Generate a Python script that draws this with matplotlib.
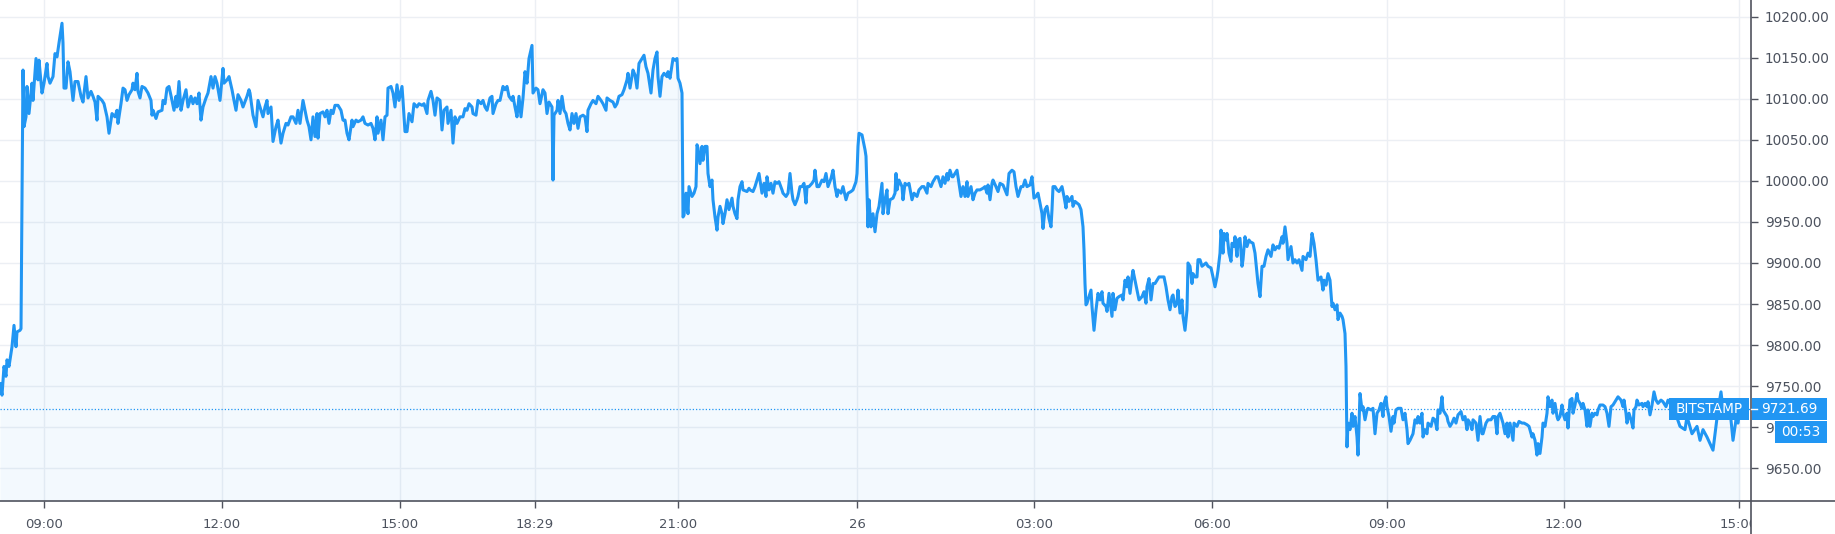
import matplotlib
matplotlib.use("Agg")
import matplotlib.pyplot as plt
import matplotlib.transforms as mtransforms
from matplotlib.patches import Rectangle
from matplotlib.lines import Line2D
import numpy as np

# bar index (1 bar ~ 1 minute, 09:00 = 0) and close price
bar_idx = [
    -44, -42, -40, -38, -37, -35, -32, -30, -28, -27, -24, -23, -21, -20, -18, -17, -15, -12, -11, -8,
    -6, -5, -2, 0, 3, 4, 6, 9, 11, 13, 15, 18, 19, 20, 22, 24, 26, 29, 31, 34,
    37, 39, 42, 44, 47, 49, 51, 53, 54, 58, 60, 63, 65, 68, 71, 73, 74, 77, 79, 81,
    83, 85, 88, 89, 91, 93, 94, 96, 98, 101, 104, 107, 108, 109, 112, 114, 118, 119, 121, 123,
    125, 128, 130, 132, 133, 135, 137, 139, 142, 144, 147, 149, 151, 153, 155, 157, 159, 162, 164, 167,
    169, 171, 173, 176, 179, 180, 183, 185, 188, 190, 192, 194, 197, 199, 203, 205,
    206, 209, 212, 214, 217, 219, 221, 223, 224, 227, 229, 232, 234, 237, 239, 242, 244, 247, 249, 252,
    254, 256, 259, 261, 263, 265, 267, 269, 271, 273, 274, 276, 279, 281, 283, 285, 287, 289, 291, 294,
    297, 299, 301, 303, 305, 308, 309, 312, 314, 317, 319, 321, 324, 327, 329, 331, 333, 334, 337, 339,
    341, 343, 344, 347, 349, 351, 353, 355, 358, 359, 361, 363, 365, 368, 370, 373, 375, 378, 380, 383,
    384, 387, 389, 391, 393, 396, 398, 400, 403, 404, 407, 409, 411, 413, 416, 419, 421, 423, 425, 428,
    429, 432, 434, 437, 439, 441, 443, 446, 448, 449, 452, 454,
    456, 459, 461, 463, 465, 468, 469, 471, 473, 475, 477, 479, 481, 483, 485, 488, 489, 492, 494, 496,
    499, 501, 503, 505, 508, 509, 510, 513, 514, 516, 518, 520, 522, 524, 526, 528, 530, 532, 534, 536,
    539, 541, 543, 544, 547, 549, 552, 554, 557, 559, 562, 563, 566, 569, 571, 573, 575, 578, 580, 583,
    584, 586, 589, 591, 593, 595, 598, 600, 602, 604, 607, 609, 611, 613, 614, 616, 618, 620, 623, 624,
    626, 629, 631, 633, 634, 636, 638, 639, 640, 642, 644, 645, 648, 650, 652, 653, 654, 656, 658, 659,
    661, 663, 664, 666, 668, 669, 671, 673, 674, 676, 678, 679, 681, 683, 685, 688, 689, 691, 693, 694,
    696, 698, 699, 703, 705,
    706, 709, 711, 713, 715, 718, 720, 722, 723, 725, 727, 729, 731, 733, 735, 738, 739, 742, 744, 746,
    748, 749, 751, 753, 754, 756, 758, 760, 762, 763, 765, 768, 770, 771, 773, 775, 778, 780, 782, 784,
    787, 789, 791, 793, 794, 797, 799, 802, 804, 807, 809, 812, 813, 814, 815, 818, 819, 821, 822, 824,
    825, 827, 829, 831, 833, 835, 838, 839, 841, 843, 844, 846, 849, 851, 852, 853, 855, 858, 859, 861,
    863, 865, 868, 870, 873, 875, 878, 880, 883, 884, 887, 889, 892, 894, 897, 899, 901, 903, 904, 906,
    908, 909, 911, 913, 915, 917, 919, 921, 923, 924, 927, 929, 931, 933, 936, 939, 941, 943, 944, 946,
    948, 949, 952, 954,
    956, 959, 961, 963, 965, 968, 970, 972, 974, 977, 979, 981, 983, 986, 988, 990, 992, 994, 996, 998,
    999, 1001, 1003, 1005, 1007, 1008, 1009, 1011, 1013, 1015, 1018, 1020, 1022, 1023, 1025, 1028, 1029, 1031, 1033, 1035,
    1037, 1039, 1040, 1041, 1042, 1043, 1045, 1047, 1048, 1050, 1052, 1054, 1056, 1058, 1059, 1062, 1063, 1065, 1068, 1069,
    1071, 1073, 1075, 1078, 1079, 1081, 1083, 1084, 1086, 1088, 1089, 1091, 1093, 1095, 1098, 1100, 1102, 1103, 1105, 1107,
    1109, 1111, 1113, 1115, 1118, 1120, 1122, 1124, 1126, 1128, 1129, 1131, 1133, 1134, 1136, 1138, 1139, 1141, 1143, 1144,
    1146, 1148, 1149, 1151, 1153, 1154, 1156, 1158, 1160, 1162, 1164, 1167, 1169, 1171, 1173, 1174, 1176, 1177, 1179, 1180,
    1182, 1183, 1185, 1187, 1188, 1190, 1191, 1193, 1194, 1196, 1198, 1199, 1201, 1203, 1205,
    1206, 1209, 1211, 1213, 1214, 1216, 1218, 1220, 1222, 1224, 1227, 1229, 1231, 1233, 1235, 1238, 1239, 1241, 1243, 1244,
    1247, 1249, 1251, 1253, 1255, 1258, 1259, 1262, 1264, 1266, 1268, 1270, 1272, 1274, 1277, 1279, 1280, 1282, 1284, 1286,
    1288, 1289, 1291, 1293, 1294, 1296, 1298, 1299, 1301, 1302, 1303, 1304, 1306, 1308, 1309, 1311, 1313, 1314, 1316, 1318,
    1319, 1321, 1323, 1324, 1327, 1329, 1331, 1333, 1335, 1337, 1339, 1340, 1342, 1343, 1345, 1347, 1349, 1350, 1352, 1354,
    1357, 1359, 1361, 1363, 1364, 1366, 1369, 1371, 1373, 1374, 1376, 1378, 1379, 1381, 1383, 1384, 1387, 1389, 1391, 1393,
    1394, 1396, 1398, 1399, 1401, 1403, 1404, 1406, 1408, 1410, 1412, 1414, 1417, 1419, 1421, 1423, 1424, 1426, 1428, 1429,
    1432, 1434, 1436, 1438, 1439, 1442, 1444, 1447, 1449, 1451, 1453, 1454,
    1456, 1459, 1461, 1463, 1464, 1466, 1469, 1470, 1473, 1475, 1478, 1480, 1483, 1485, 1488, 1489, 1491, 1493, 1494, 1496,
    1498, 1499, 1501, 1503, 1504, 1506, 1508, 1509, 1511, 1513, 1514, 1516, 1518, 1519, 1521, 1523, 1524, 1526, 1528, 1529,
    1531, 1533, 1534, 1536, 1538, 1539, 1541, 1543, 1544, 1546, 1548, 1549, 1551, 1553, 1554, 1556, 1559, 1561, 1563, 1565,
    1567, 1569, 1572, 1574, 1577, 1579, 1580, 1582, 1583, 1585, 1587, 1589, 1590, 1592, 1593, 1595, 1598, 1599, 1601, 1603,
    1604, 1606, 1608, 1610, 1612, 1614, 1617, 1619, 1622, 1624, 1630, 1636, 1641, 1643, 1648, 1653, 1656, 1659, 1663, 1666,
    1669, 1672, 1674, 1677, 1679, 1683, 1686, 1689, 1692, 1694, 1696,
]
price = [
    9753, 9739, 9774, 9762, 9782, 9774, 9798, 9824, 9798, 9816, 9818, 9820, 10135, 10066, 10078, 10115, 10082, 10119, 10098, 10149,
    10123, 10147, 10107, 10119, 10143, 10127, 10119, 10127, 10155, 10151, 10168, 10192, 10168, 10113, 10113, 10145, 10133, 10098, 10121, 10121,
    10103, 10096, 10127, 10101, 10109, 10103, 10096, 10074, 10103, 10098, 10094, 10078, 10058, 10082, 10078, 10086, 10070, 10094, 10113, 10111,
    10098, 10105, 10111, 10119, 10111, 10131, 10109, 10101, 10115, 10113, 10107, 10098, 10080, 10086, 10076, 10084, 10086, 10098, 10094, 10113,
    10115, 10098, 10086, 10103, 10090, 10121, 10086, 10098, 10111, 10090, 10103, 10094, 10101, 10094, 10107, 10074, 10090, 10101, 10107, 10127,
    10113, 10127, 10119, 10098, 10137, 10119, 10123, 10127, 10111, 10098, 10086, 10105, 10098, 10090, 10103, 10111,
    10107, 10080, 10066, 10098, 10086, 10078, 10090, 10098, 10082, 10090, 10048, 10066, 10074, 10046, 10058, 10070, 10068, 10078, 10078, 10070,
    10086, 10070, 10098, 10086, 10074, 10066, 10050, 10078, 10054, 10082, 10052, 10082, 10084, 10078, 10086, 10070, 10086, 10082, 10092, 10092,
    10086, 10074, 10074, 10058, 10050, 10074, 10066, 10074, 10072, 10074, 10078, 10070, 10068, 10070, 10064, 10050, 10078, 10058, 10074, 10050,
    10078, 10080, 10113, 10115, 10107, 10090, 10117, 10098, 10115, 10098, 10060, 10060, 10082, 10072, 10094, 10090, 10094, 10092, 10094, 10082,
    10098, 10109, 10098, 10080, 10101, 10098, 10062, 10086, 10090, 10070, 10086, 10046, 10078, 10070, 10078, 10078, 10088, 10086, 10094, 10090,
    10082, 10080, 10098, 10094, 10098, 10090, 10086, 10101, 10103, 10082, 10094, 10098,
    10098, 10115, 10111, 10115, 10103, 10098, 10103, 10090, 10078, 10103, 10078, 10101, 10133, 10119, 10149, 10165, 10107, 10113, 10111, 10094,
    10111, 10107, 10082, 10096, 10090, 10001, 10080, 10086, 10098, 10082, 10103, 10086, 10082, 10070, 10062, 10082, 10070, 10082, 10064, 10078,
    10080, 10078, 10060, 10086, 10094, 10098, 10094, 10103, 10098, 10094, 10086, 10101, 10098, 10096, 10090, 10094, 10103, 10105, 10111, 10123,
    10131, 10113, 10135, 10129, 10113, 10143, 10149, 10153, 10139, 10131, 10107, 10135, 10149, 10157, 10127, 10103, 10127, 10131, 10127, 10133,
    10125, 10149, 10147, 10149, 10125, 10119, 10107, 9956, 9958, 9985, 9960, 9993, 9981, 9985, 9993, 10044, 10040, 10021, 10042, 10025,
    10042, 10042, 10009, 9993, 10001, 9977, 9956, 9940, 9956, 9969, 9960, 9948, 9960, 9977, 9965, 9979, 9969, 9960, 9954, 9977,
    9993, 9999, 9989, 9987, 9991,
    9989, 9987, 9993, 10001, 10009, 9985, 9997, 9981, 10005, 9989, 9997, 9985, 9999, 9997, 9999, 9989, 9985, 9981, 9985, 10009,
    9985, 9977, 9971, 9977, 9981, 9993, 9993, 9997, 9973, 9993, 9993, 9997, 10001, 10013, 9993, 9993, 10001, 9999, 10009, 9993,
    10003, 10013, 9993, 9981, 9989, 9985, 9993, 9977, 9985, 9987, 9989, 9999, 10009, 10042, 10058, 10056, 10050, 10038, 10030, 9944,
    9977, 9944, 9960, 9938, 9960, 9969, 9997, 9960, 9977, 9989, 9960, 9977, 9979, 9985, 10009, 9989, 10001, 9993, 9977, 9997,
    9995, 9997, 9977, 9985, 9981, 9989, 9993, 9993, 9985, 9997, 9993, 9999, 10005, 10005, 9993, 10005, 9997, 10009, 10001, 10013,
    10005, 10005, 10009, 10013, 9997, 9981, 9993, 9981, 9999, 9981, 9993, 9977, 9985, 9989, 9989, 9991, 9993, 9985, 9995, 9977,
    9997, 10001, 9993, 9987,
    9997, 9995, 9989, 9983, 10009, 10013, 10011, 9993, 9981, 9993, 9993, 10001, 9993, 9995, 10005, 9979, 9981, 9985, 9973, 9960,
    9942, 9965, 9969, 9954, 9944, 9965, 9993, 9993, 9989, 9987, 9993, 9981, 9967, 9981, 9975, 9981, 9969, 9975, 9973, 9971,
    9965, 9944, 9916, 9875, 9849, 9851, 9859, 9867, 9847, 9818, 9843, 9863, 9855, 9865, 9851, 9847, 9841, 9863, 9835, 9863,
    9843, 9857, 9859, 9861, 9855, 9879, 9871, 9883, 9863, 9883, 9891, 9879, 9867, 9855, 9859, 9865, 9851, 9871, 9881, 9855,
    9875, 9875, 9879, 9883, 9883, 9883, 9871, 9855, 9843, 9859, 9861, 9847, 9851, 9867, 9839, 9855, 9835, 9818, 9843, 9900,
    9896, 9875, 9887, 9883, 9883, 9904, 9904, 9896, 9898, 9900, 9896, 9894, 9883, 9871, 9883, 9891, 9912, 9940, 9912, 9936,
    9928, 9936, 9912, 9902, 9924, 9920, 9932, 9908, 9928, 9930, 9896, 9904, 9932, 9920, 9928,
    9926, 9924, 9912, 9887, 9875, 9859, 9896, 9896, 9908, 9916, 9908, 9922, 9916, 9920, 9918, 9932, 9924, 9944, 9924, 9904,
    9920, 9900, 9904, 9900, 9904, 9891, 9908, 9904, 9912, 9908, 9936, 9924, 9904, 9879, 9883, 9867, 9879, 9873, 9887, 9879,
    9847, 9851, 9843, 9849, 9831, 9839, 9835, 9831, 9814, 9774, 9676, 9705, 9697, 9717, 9701, 9713, 9688, 9666, 9741, 9721,
    9725, 9709, 9721, 9723, 9721, 9723, 9692, 9717, 9721, 9729, 9713, 9729, 9737, 9725, 9713, 9695, 9713, 9705, 9721, 9723,
    9723, 9709, 9717, 9697, 9680, 9684, 9692, 9709, 9705, 9713, 9705, 9717, 9688, 9697, 9692, 9705, 9701, 9711, 9709, 9697,
    9721, 9717, 9737, 9721, 9717, 9713, 9707, 9701, 9705, 9711, 9705, 9715, 9719, 9709, 9713, 9697, 9709, 9705, 9697, 9709,
    9705, 9684, 9713, 9692, 9692, 9705, 9709, 9709, 9713, 9713, 9692, 9713,
    9717, 9705, 9692, 9705, 9688, 9705, 9684, 9705, 9701, 9707, 9705, 9705, 9703, 9701, 9688, 9692, 9684, 9666, 9680, 9668,
    9688, 9705, 9701, 9717, 9737, 9725, 9733, 9717, 9729, 9713, 9709, 9713, 9727, 9717, 9709, 9717, 9699, 9733, 9735, 9717,
    9727, 9741, 9733, 9729, 9723, 9729, 9721, 9701, 9721, 9701, 9717, 9713, 9717, 9715, 9721, 9727, 9727, 9725, 9717, 9701,
    9725, 9727, 9733, 9737, 9733, 9725, 9733, 9717, 9705, 9717, 9709, 9699, 9721, 9725, 9733, 9727, 9729, 9725, 9729, 9725,
    9731, 9715, 9727, 9743, 9733, 9729, 9733, 9731, 9725, 9733, 9722, 9701, 9697, 9713, 9692, 9701, 9684, 9697, 9688, 9680,
    9672, 9701, 9721, 9743, 9721, 9725, 9721, 9684, 9709, 9705, 9722,
]

tick_pos = [0, 178, 356, 491, 634, 813, 990, 1168, 1343, 1520, 1695]
tick_lbl = ["09:00", "12:00", "15:00", "18:29", "21:00", "26", "03:00", "06:00", "09:00", "12:00", "15:00"]
y_ticks = np.arange(9650, 10201, 50)
last_price = 9721.69
countdown = "00:53"
symbol = "BITSTAMP"

blue = "#2196f3"
axis_col = "#50535e"
txt_col = "#4c525e"
grid_col = "#eceff4"

W, H = 1835, 534
plot_right = 1751
axis_y = 501

fig = plt.figure(figsize=(W / 100, H / 100), dpi=100)
fig.patch.set_facecolor("white")
ax = fig.add_axes([0, (H - axis_y) / H, plot_right / W, axis_y / H])
ymin, ymax = 9610.1, 10220.3
ax.set_xlim(-44, 1707)
ax.set_ylim(ymin, ymax)

ax.plot(bar_idx, price, color=blue, lw=2.2, solid_joinstyle="round", zorder=3)
ax.fill_between(bar_idx, price, ymin, color=blue, alpha=0.05, lw=0, zorder=2)
ax.axhline(last_price, color=blue, lw=0.9, ls=(0, (1, 1.6)), zorder=2.5)

for s in ax.spines.values():
    s.set_visible(False)
ax.set_yticks(y_ticks)
ax.set_yticklabels(["%.2f" % v for v in y_ticks])
ax.yaxis.tick_right()
ax.set_xticks(tick_pos)
ax.set_xticklabels(tick_lbl)
ax.grid(True, color=grid_col, lw=1, zorder=0)
ax.set_axisbelow(True)
ax.tick_params(axis="y", direction="out", length=5, width=1, color=axis_col,
               labelcolor=txt_col, labelsize=9.8, pad=5)
ax.tick_params(axis="x", direction="out", length=5, width=1, color=axis_col,
               labelcolor=txt_col, labelsize=9.5, pad=7)

# cut the last time label at the price scale, as the reference does
clip = mtransforms.TransformedBbox(
    mtransforms.Bbox([[0, 0], [plot_right / W, 1]]), fig.transFigure)
for lbl in ax.get_xticklabels():
    lbl.set_clip_on(True)
    lbl.set_clip_box(clip)

# price scale / time scale borders
fig.add_artist(Line2D([plot_right / W] * 2, [0, 1], color=axis_col, lw=1.2))
fig.add_artist(Line2D([0, 1], [(H - axis_y) / H] * 2, color=axis_col, lw=1.2))

# last price labels
unit_px = ax.bbox.height / (ymax - ymin)
box_h = 22 / unit_px
tr = mtransforms.blended_transform_factory(fig.transFigure, ax.transData)
fig.add_artist(Rectangle((1669 / W, last_price - box_h / 2), 80 / W, box_h,
                         transform=tr, color=blue, lw=0, zorder=5))
fig.text(1709 / W, last_price, symbol, transform=tr, color="white", fontsize=9.8,
         ha="center", va="center", zorder=6)
fig.add_artist(Rectangle((1752 / W, last_price - box_h / 2), 75 / W, box_h,
                         transform=tr, color=blue, lw=0, zorder=5))
fig.add_artist(Line2D([plot_right / W, 1757 / W], [last_price] * 2, transform=tr,
                      color="white", lw=1, zorder=6))
fig.text(1761 / W, last_price, "%.2f" % last_price, transform=tr, color="white",
         fontsize=9.8, ha="left", va="center", zorder=6)
cd_y = last_price - 23 / unit_px
fig.add_artist(Rectangle((1775 / W, cd_y - box_h / 2), 52 / W, box_h,
                         transform=tr, color=blue, lw=0, zorder=5))
fig.text(1801 / W, cd_y, countdown, transform=tr, color="white", fontsize=9.8,
         ha="center", va="center", zorder=6)

fig.savefig("out.png", dpi=100)
